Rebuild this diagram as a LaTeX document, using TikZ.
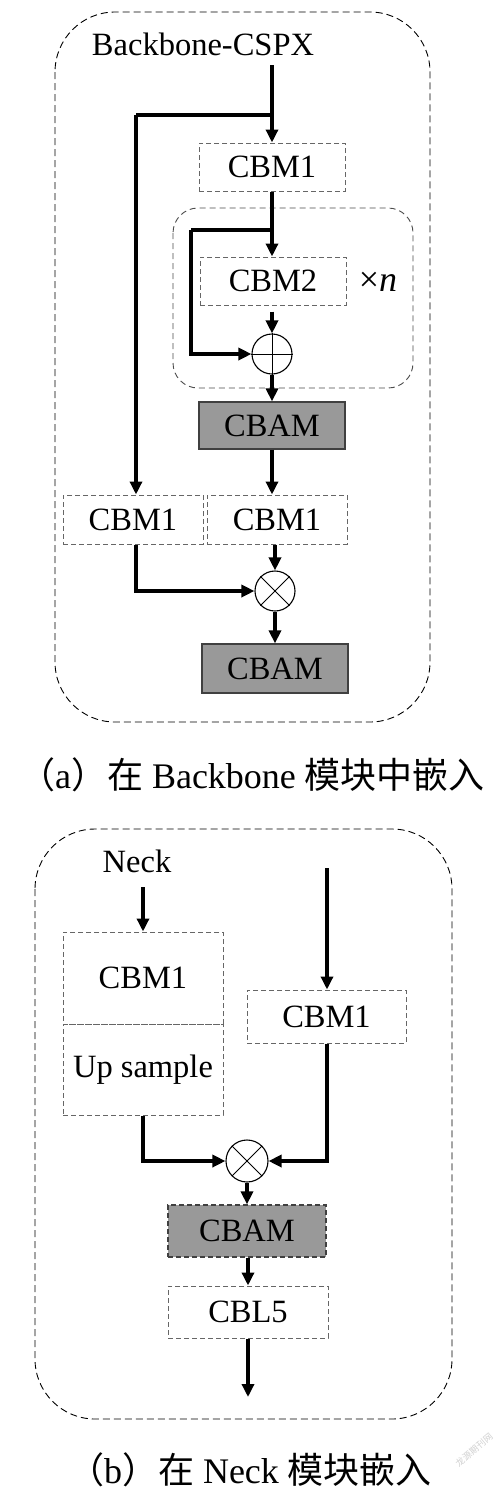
\documentclass[tikz,border=0pt]{standalone}
\usepackage{fontspec}
\setmainfont{Liberation Serif}
\newfontfamily\cjk{Noto Sans CJK SC}
\usetikzlibrary{arrows.meta,calc}
\begin{document}
\begin{tikzpicture}[x=1pt,y=-1pt,
  txt/.style={font=\fontsize{32.5}{36}\selectfont, inner sep=0pt},
  dbox/.style={draw=black!60, dash pattern=on 5pt off 3pt, line width=1pt, inner sep=0pt, font=\fontsize{32.5}{36}\selectfont},
  gbox/.style={draw=black!75, line width=1.2pt, fill=black!40, inner sep=0pt, font=\fontsize{32.5}{36}\selectfont},
  gdbox/.style={draw=black!75, dash pattern=on 5pt off 3pt, line width=1.2pt, fill=black!40, inner sep=0pt, font=\fontsize{32.5}{36}\selectfont},
  outer/.style={draw=black, dash pattern=on 7pt off 4pt, line width=0.9pt, rounded corners=60pt},
  inner/.style={draw=black!70, dash pattern=on 6pt off 4pt, line width=0.9pt, rounded corners=25pt},
  ar/.style={line width=3.3pt, -{Triangle[length=13pt,width=12pt]}},
  ln/.style={line width=3.3pt},
  op/.style={circle, draw, line width=1.1pt, minimum size=40pt, inner sep=0pt},
  captxt/.style={font=\fontsize{36}{40}\selectfont, inner sep=0pt}
]
\useasboundingbox (0,0) rectangle (503,1492);
\fill[white] (0,0) rectangle (503,1492);

% ---------- (a) ----------
\draw[outer] (55,12) rectangle (430,722);
\node[txt] (title) at (203,44) {Backbone-CSPX};
\coordinate (in) at (272,65);
\coordinate (b1) at (272,115);
\coordinate (lx) at (136,115);
\node[dbox, minimum width=146pt, minimum height=48pt] (cbmA) at (272,167) {CBM1};
\draw[inner] (173,208) rectangle (413,388);
\node[dbox, minimum width=146pt, minimum height=48pt] (cbmB) at (273,281) {CBM2};
\node[txt, font=\fontsize{36}{40}\selectfont] (xn) at (378,282) {×\textit{n}};
\node[op] (plus) at (272,354) {};
\draw[line width=0.9pt] (plus.north) -- (plus.south) (plus.west) -- (plus.east);
\node[gbox, minimum width=146pt, minimum height=47pt] (cbamA) at (272,425.5) {CBAM};
\node[dbox, minimum width=140pt, minimum height=49pt] (cbmL) at (133,519.5) {CBM1};
\node[dbox, minimum width=140pt, minimum height=49pt] (cbmR) at (277,519.5) {CBM1};
\node[op] (times) at (275,591) {};
\draw[line width=0.9pt] (times.north west) -- (times.south east) (times.north east) -- (times.south west);
\node[gbox, minimum width=146pt, minimum height=49pt] (cbamB) at (275,668.5) {CBAM};
\coordinate (b2) at (272,230);
\coordinate (lx2) at (191,230);

\draw[ar] (in) -- (cbmA.north);
\draw[ln] (b1) -- (lx);
\draw[ar] (lx) -- (lx |- cbmL.north);
\draw[ar] (cbmA.south) -- (cbmA.south |- cbmB.north);
\draw[ln] (b2) -- (lx2);
\draw[ar] (lx2) |- (plus.west);
\draw[ar] ($(cbmB.south)+(-1,6)$) -- (plus.north);
\draw[ar] (plus.south) -- (cbamA.north);
\draw[ar] (cbamA.south) -- (cbamA.south |- cbmR.north);
\draw[ar] (times.north |- cbmR.south) -- (times.north);
\draw[ar] (lx |- cbmL.south) |- (times.west);
\draw[ar] (times.south) -- (cbamB.north);

\node[captxt] (capa) at (252,775) {{\cjk （}a{\cjk ）在} Backbone {\cjk 模块中嵌入}};

% ---------- (b) ----------
\draw[outer] (35,829) rectangle (452,1419);
\node[txt] (neck) at (137,861) {Neck};
\coordinate (n1) at (143,887);
\node[dbox, minimum width=160pt, minimum height=92pt] (cbmN) at (143,978) {CBM1};
\node[dbox, minimum width=160pt, minimum height=91pt] (upN) at (143,1069.5) {Up sample};
\coordinate (r1) at (327,868);
\node[dbox, minimum width=159pt, minimum height=53pt] (cbmNR) at (326.5,1016.5) {CBM1};
\node[op, minimum size=42pt] (times2) at (247,1161) {};
\draw[line width=0.9pt] (times2.north west) -- (times2.south east) (times2.north east) -- (times2.south west);
\node[gdbox, minimum width=158pt, minimum height=52pt] (cbamN) at (247,1231) {CBAM};
\node[dbox, minimum width=160pt, minimum height=52pt] (cbl) at (248,1312) {CBL5};
\coordinate (out) at (248,1397);

\draw[ar] (n1) -- (cbmN.north);
\draw[ar] (r1) -- (r1 |- cbmNR.north);
\draw[ar] (r1 |- cbmNR.south) |- (times2.east);
\draw[ar] (upN.south) |- (times2.west);
\draw[ar] (times2.south) -- (times2.south |- cbamN.north);
\draw[ar] (cbl.north |- cbamN.south) -- (cbl.north);
\draw[ar] (cbl.south) -- (out);

\node[captxt] (capb) at (250,1470) {{\cjk （}b{\cjk ）在} Neck {\cjk 模块嵌入}};
\node[font=\cjk\fontsize{9}{9}\selectfont, text=black!18, rotate=40, inner sep=0pt] (wm) at (474,1450) {龙源期刊网};
\end{tikzpicture}
\end{document}
